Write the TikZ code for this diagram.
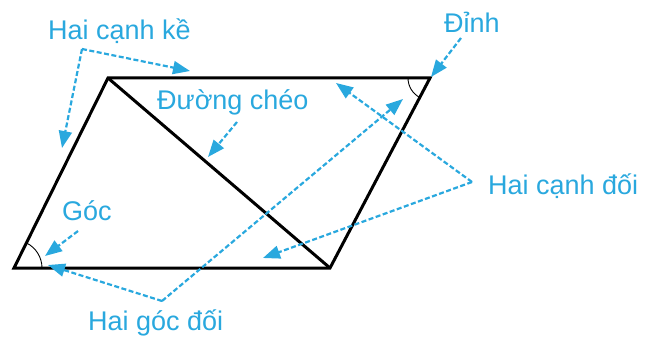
\documentclass[tikz,border=0pt]{standalone}
\usepackage{fontspec}
\setmainfont{Liberation Sans}
\usetikzlibrary{arrows.meta}
\definecolor{lblue}{RGB}{41,168,222}
\tikzset{
  lbl/.style={text=lblue, font=\fontsize{27}{30}\selectfont, inner sep=0pt, anchor=base west},
  pointer/.style={draw=lblue, line width=2.2pt, dash pattern=on 5pt off 2.5pt,
    -{Triangle[length=17pt,width=13pt,fill=lblue]}},
  edge/.style={draw=black, line width=3pt, line join=miter},
  anglemark/.style={draw=black, line width=0.9pt}
}
\begin{document}
\begin{tikzpicture}[x=1pt,y=-1pt]
\useasboundingbox (0,0) rectangle (646,337);
% vertices
\coordinate (A) at (14,268);
\coordinate (B) at (108,78);
\coordinate (C) at (430,78);
\coordinate (D) at (330,268);
% parallelogram and diagonal
\draw[edge] (A) -- (B) -- (C) -- (D) -- cycle;
\draw[edge] (B) -- (D);
% angle marks
\draw[anglemark] (C) ++(180:22) arc[start angle=180, end angle=117.8, radius=22];
\draw[anglemark] (A) ++(0:28) arc[start angle=0, end angle=-63.7, radius=28];
% labels
\node[lbl] (ke) at (48,40) {Hai cạnh kề};
\node[lbl] (cheo) at (157,110) {Đường chéo};
\node[lbl] (dinh) at (444,33) {Đỉnh};
\node[lbl] (goc) at (62,220) {Góc};
\node[lbl] (gocdoi) at (88,330) {Hai góc đối};
\node[lbl] (canhdoi) at (488,194) {Hai cạnh đối};
% junctions and targets
\coordinate (J1) at (82,49);
\coordinate (T1a) at (190,71);
\coordinate (T1b) at (62,148);
\coordinate (S2) at (237,122);
\coordinate (T2) at (208,157);
\coordinate (S3) at (461,38);
\coordinate (T3) at (431,77);
\coordinate (S4) at (78,231);
\coordinate (T4) at (45,256);
\coordinate (J2) at (162,301);
\coordinate (T5a) at (48,265);
\coordinate (T5b) at (403,99);
\coordinate (J3) at (472,182);
\coordinate (T6a) at (336,83);
\coordinate (T6b) at (263,258);
% pointers
\draw[pointer] (J1) -- (T1a);
\draw[pointer] (J1) -- (T1b);
\draw[pointer] (S2) -- (T2);
\draw[pointer] (S3) -- (T3);
\draw[pointer] (S4) -- (T4);
\draw[pointer] (J2) -- (T5a);
\draw[pointer] (J2) -- (T5b);
\draw[pointer] (J3) -- (T6a);
\draw[pointer] (J3) -- (T6b);
\end{tikzpicture}
\end{document}
